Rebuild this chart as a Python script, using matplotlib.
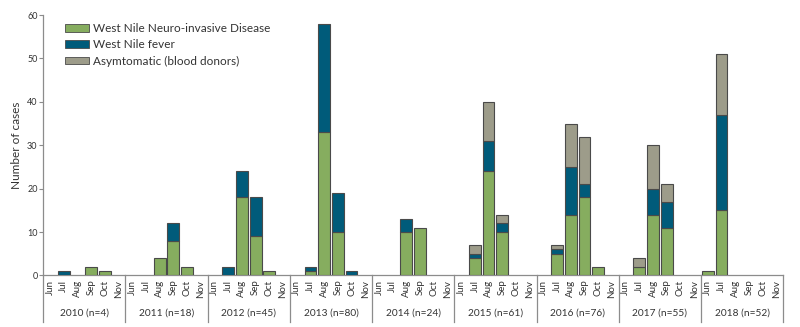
import numpy as np
import matplotlib
matplotlib.use('Agg')
import matplotlib.pyplot as plt
from matplotlib.patches import Patch

plt.rcParams['font.family'] = ['Lato', 'DejaVu Sans']

years = ['2010', '2011', '2012', '2013', '2014', '2015', '2016', '2017', '2018']
n_cases = [4, 18, 45, 80, 24, 61, 76, 55, 52]
months = ['Jun', 'Jul', 'Aug', 'Sep', 'Oct', 'Nov']

# one row per year, Jun..Nov
nid = [
    [0, 0, 0, 2, 1, 0],
    [0, 0, 4, 8, 2, 0],
    [0, 0, 18, 9, 1, 0],
    [0, 1, 33, 10, 0, 0],
    [0, 0, 10, 11, 0, 0],
    [0, 4, 24, 10, 0, 0],
    [0, 5, 14, 18, 2, 0],
    [0, 2, 14, 11, 0, 0],
    [1, 15, 0, 0, 0, 0],
]
fever = [
    [0, 1, 0, 0, 0, 0],
    [0, 0, 0, 4, 0, 0],
    [0, 2, 6, 9, 0, 0],
    [0, 1, 25, 9, 1, 0],
    [0, 0, 3, 0, 0, 0],
    [0, 1, 7, 2, 0, 0],
    [0, 1, 11, 3, 0, 0],
    [0, 0, 6, 6, 0, 0],
    [0, 22, 0, 0, 0, 0],
]
asym = [
    [0, 0, 0, 0, 0, 0],
    [0, 0, 0, 0, 0, 0],
    [0, 0, 0, 0, 0, 0],
    [0, 0, 0, 0, 0, 0],
    [0, 0, 0, 0, 0, 0],
    [0, 2, 9, 2, 0, 0],
    [0, 1, 10, 11, 0, 0],
    [0, 2, 10, 4, 0, 0],
    [0, 14, 0, 0, 0, 0],
]

c_nid = '#86ad5f'
c_fev = '#005b7a'
c_asy = '#9d9c8a'
edge = '#4a4a4a'
grey = '#8c8c8c'

a = np.array(nid).ravel()
b = np.array(fever).ravel()
c = np.array(asym).ravel()
x = np.arange(len(a))

fig = plt.figure(figsize=(8, 3.27), dpi=100)
ax = fig.add_axes([0.054, 0.1575, 0.925, 0.7965])

w = 0.86
for vals, bottom, col in [(a, np.zeros_like(a), c_nid), (b, a, c_fev), (c, a + b, c_asy)]:
    m = vals > 0
    ax.bar(x[m], vals[m], w, bottom=bottom[m],
           color=col, edgecolor=edge, linewidth=0.8, zorder=3)

ax.set_xlim(-0.5, len(a) - 0.5)
ax.set_ylim(0, 60)
ax.set_yticks(range(0, 61, 10))
ax.tick_params(axis='y', length=3, width=0.8, color=grey, labelsize=6.5, labelcolor='#333333', pad=1)
ax.set_xticks(x)
ax.set_xticklabels(months * len(years), rotation=90, fontsize=7, color='#333333')
ax.tick_params(axis='x', length=0, pad=3)
for s in ['top', 'right']:
    ax.spines[s].set_visible(False)
ax.spines['left'].set_color(grey)
ax.spines['bottom'].set_color(grey)
ax.spines['left'].set_linewidth(0.9)
ax.spines['bottom'].set_linewidth(0.9)
ax.set_ylabel('Number of cases', fontsize=8.5, color='#333333', labelpad=4)

tr = ax.get_xaxis_transform()
for i in range(len(years) + 1):
    xs = i * 6 - 0.5
    ax.plot([xs, xs], [0, -0.18], transform=tr, color=grey, linewidth=0.9, clip_on=False)
for i, (yr, n) in enumerate(zip(years, n_cases)):
    ax.text(i * 6 + 2.5, -0.143, f'{yr} (n={n})', transform=tr, ha='center', va='center',
            fontsize=7.3, color='#333333')

handles = [Patch(facecolor=c_nid, edgecolor=edge, linewidth=0.6),
           Patch(facecolor=c_fev, edgecolor=edge, linewidth=0.6),
           Patch(facecolor=c_asy, edgecolor=edge, linewidth=0.6)]
ax.legend(handles, ['West Nile Neuro-invasive Disease', 'West Nile fever', 'Asymtomatic (blood donors)'],
          loc='upper left', bbox_to_anchor=(0.015, 1.01), frameon=False, fontsize=8.5,
          handlelength=2.0, handleheight=0.6, handletextpad=0.4, labelspacing=0.45,
          labelcolor='#333333')

fig.savefig('out.png', dpi=100)
